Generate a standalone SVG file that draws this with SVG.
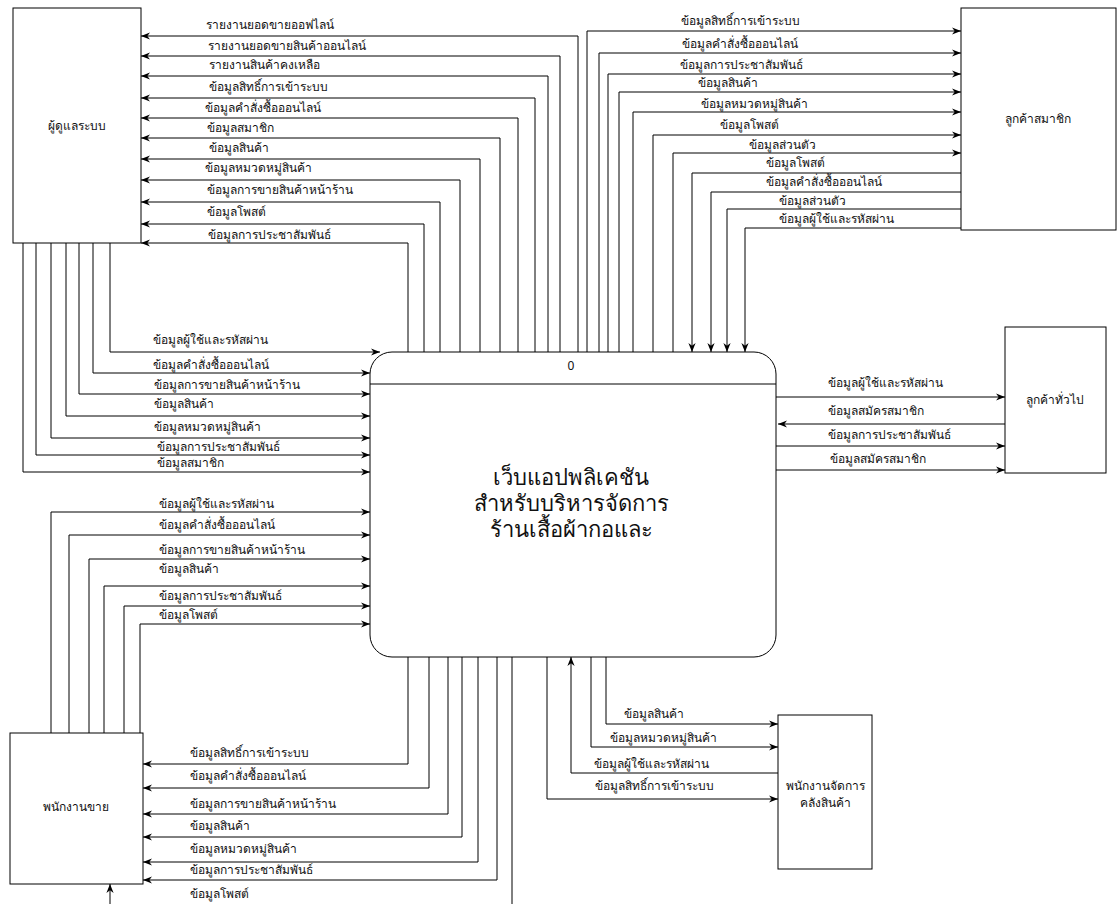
<svg xmlns="http://www.w3.org/2000/svg" width="1117" height="904" viewBox="0 0 1117 904">
<style>
.n{fill:#fff;stroke:#000;stroke-width:1}
.c{fill:none;stroke:#000;stroke-width:1}
.ca{fill:none;stroke:#000;stroke-width:1;marker-end:url(#ah)}
.t{font-family:"Noto Sans","DejaVu Sans",sans-serif;font-size:12px;fill:#111}
.nl{font-family:"Noto Sans","DejaVu Sans",sans-serif;font-size:12px;fill:#111;text-anchor:middle}
.big{font-family:"Noto Sans","DejaVu Sans",sans-serif;font-size:22px;fill:#111;text-anchor:middle}
</style>
<defs>
<marker id="ah" viewBox="0 0 10 10" refX="10" refY="5" markerWidth="9" markerHeight="9" orient="auto" markerUnits="userSpaceOnUse">
<path d="M0,1 L10,5 L0,9 L3,5 Z" fill="#000"/>
</marker>
</defs>
<rect width="1117" height="904" fill="#fff"/>

<g id="connectors">
<!-- process -> admin -->
<path class="ca" d="M578,352 V36 H141"/>
<path class="ca" d="M560,352 V56 H141"/>
<path class="ca" d="M548,352 V76 H141"/>
<path class="ca" d="M535,352 V98 H141"/>
<path class="ca" d="M518,352 V118 H141"/>
<path class="ca" d="M500,352 V138 H141"/>
<path class="ca" d="M480,352 V159 H141"/>
<path class="ca" d="M460,352 V180 H141"/>
<path class="ca" d="M440,352 V202 H141"/>
<path class="ca" d="M424,352 V224 H141"/>
<path class="ca" d="M408,352 V243 H141"/>
<!-- admin -> process -->
<path class="ca" d="M110,243 V352 H380"/>
<path class="ca" d="M93,243 V373 H370"/>
<path class="ca" d="M79,243 V394 H370"/>
<path class="ca" d="M66,243 V416 H370"/>
<path class="ca" d="M51,243 V438 H370"/>
<path class="ca" d="M36,243 V455 H370"/>
<path class="ca" d="M23,243 V472 H370"/>
<!-- process -> member -->
<path class="ca" d="M587,352 V31 H961"/>
<path class="ca" d="M599,352 V53 H961"/>
<path class="ca" d="M608,352 V74 H961"/>
<path class="ca" d="M619,352 V92 H961"/>
<path class="ca" d="M633,352 V112 H961"/>
<path class="ca" d="M653,352 V135 H961"/>
<path class="ca" d="M673,352 V153 H961"/>
<!-- member -> process -->
<path class="ca" d="M961,173 H692 V352"/>
<path class="ca" d="M961,192 H711 V352"/>
<path class="ca" d="M961,209 H727 V352"/>
<path class="ca" d="M961,228 H745 V352"/>
<!-- general customer -->
<path class="ca" d="M776,397 H1005"/>
<path class="ca" d="M1005,424 H778"/>
<path class="ca" d="M776,446 H1005"/>
<path class="ca" d="M776,470 H1005"/>
<!-- sales staff -> process -->
<path class="ca" d="M51,733 V512 H370"/>
<path class="ca" d="M69,733 V535 H370"/>
<path class="ca" d="M89,733 V559 H370"/>
<path class="ca" d="M104,733 V586 H370"/>
<path class="ca" d="M124,733 V606 H370"/>
<path class="ca" d="M140,733 V624 H370"/>
<!-- process -> sales staff -->
<path class="ca" d="M408,657 V764 H143"/>
<path class="ca" d="M429,657 V788 H143"/>
<path class="ca" d="M448,657 V814 H143"/>
<path class="ca" d="M462,657 V837 H143"/>
<path class="ca" d="M478,657 V862 H143"/>
<path class="ca" d="M497,657 V880 H143"/>
<path class="ca" d="M512,657 V930 H110 V884"/>
<!-- warehouse -->
<path class="ca" d="M606,657 V724 H778"/>
<path class="ca" d="M591,657 V747 H778"/>
<path class="ca" d="M778,773 H571 V657"/>
<path class="ca" d="M547,657 V799 H778"/>
</g>

<g id="labels">
<text class="t" x="206" y="29">รายงานยอดขายออฟไลน์</text>
<text class="t" x="208" y="50">รายงานยอดขายสินค้าออนไลน์</text>
<text class="t" x="209" y="69">รายงานสินค้าคงเหลือ</text>
<text class="t" x="209" y="91">ข้อมูลสิทธิ์การเข้าระบบ</text>
<text class="t" x="205" y="112">ข้อมูลคำสั่งซื้อออนไลน์</text>
<text class="t" x="207" y="132">ข้อมูลสมาชิก</text>
<text class="t" x="209" y="152">ข้อมูลสินค้า</text>
<text class="t" x="205" y="172">ข้อมูลหมวดหมู่สินค้า</text>
<text class="t" x="207" y="194">ข้อมูลการขายสินค้าหน้าร้าน</text>
<text class="t" x="207" y="216">ข้อมูลโพสต์</text>
<text class="t" x="208" y="239">ข้อมูลการประชาสัมพันธ์</text>

<text class="t" x="153" y="344">ข้อมูลผู้ใช้และรหัสผ่าน</text>
<text class="t" x="153" y="369">ข้อมูลคำสั่งซื้อออนไลน์</text>
<text class="t" x="154" y="389">ข้อมูลการขายสินค้าหน้าร้าน</text>
<text class="t" x="154" y="408">ข้อมูลสินค้า</text>
<text class="t" x="154" y="431">ข้อมูลหมวดหมู่สินค้า</text>
<text class="t" x="157" y="451">ข้อมูลการประชาสัมพันธ์</text>
<text class="t" x="157" y="467">ข้อมูลสมาชิก</text>

<text class="t" x="681" y="25">ข้อมูลสิทธิ์การเข้าระบบ</text>
<text class="t" x="682" y="48">ข้อมูลคำสั่งซื้อออนไลน์</text>
<text class="t" x="680" y="69">ข้อมูลการประชาสัมพันธ์</text>
<text class="t" x="698" y="87">ข้อมูลสินค้า</text>
<text class="t" x="701" y="108">ข้อมูลหมวดหมู่สินค้า</text>
<text class="t" x="720" y="129">ข้อมูลโพสต์</text>
<text class="t" x="749" y="149">ข้อมูลส่วนตัว</text>
<text class="t" x="766" y="167">ข้อมูลโพสต์</text>
<text class="t" x="766" y="186">ข้อมูลคำสั่งซื้อออนไลน์</text>
<text class="t" x="779" y="205">ข้อมูลส่วนตัว</text>
<text class="t" x="779" y="223">ข้อมูลผู้ใช้และรหัสผ่าน</text>

<text class="t" x="828" y="387">ข้อมูลผู้ใช้และรหัสผ่าน</text>
<text class="t" x="828" y="415">ข้อมูลสมัครสมาชิก</text>
<text class="t" x="828" y="439">ข้อมูลการประชาสัมพันธ์</text>
<text class="t" x="830" y="463">ข้อมูลสมัครสมาชิก</text>

<text class="t" x="159" y="508">ข้อมูลผู้ใช้และรหัสผ่าน</text>
<text class="t" x="159" y="529">ข้อมูลคำสั่งซื้อออนไลน์</text>
<text class="t" x="159" y="554">ข้อมูลการขายสินค้าหน้าร้าน</text>
<text class="t" x="159" y="573">ข้อมูลสินค้า</text>
<text class="t" x="159" y="600">ข้อมูลการประชาสัมพันธ์</text>
<text class="t" x="159" y="619">ข้อมูลโพสต์</text>

<text class="t" x="190" y="757">ข้อมูลสิทธิ์การเข้าระบบ</text>
<text class="t" x="190" y="780">ข้อมูลคำสั่งซื้อออนไลน์</text>
<text class="t" x="190" y="808">ข้อมูลการขายสินค้าหน้าร้าน</text>
<text class="t" x="190" y="830">ข้อมูลสินค้า</text>
<text class="t" x="190" y="853">ข้อมูลหมวดหมู่สินค้า</text>
<text class="t" x="190" y="874">ข้อมูลการประชาสัมพันธ์</text>
<text class="t" x="190" y="898">ข้อมูลโพสต์</text>

<text class="t" x="624" y="718">ข้อมูลสินค้า</text>
<text class="t" x="610" y="742">ข้อมูลหมวดหมู่สินค้า</text>
<text class="t" x="594" y="768">ข้อมูลผู้ใช้และรหัสผ่าน</text>
<text class="t" x="595" y="790">ข้อมูลสิทธิ์การเข้าระบบ</text>
</g>

<g id="admin">
<rect class="n" x="13" y="8" width="128" height="235"/>
<text class="nl" x="77" y="130">ผู้ดูแลระบบ</text>
</g>
<g id="member">
<rect class="n" x="961" y="8" width="155" height="222"/>
<text class="nl" x="1038" y="123">ลูกค้าสมาชิก</text>
</g>
<g id="general">
<rect class="n" x="1005" y="327" width="101" height="146"/>
<text class="nl" x="1055" y="404">ลูกค้าทั่วไป</text>
</g>
<g id="sales">
<rect class="n" x="10" y="733" width="133" height="151"/>
<text class="nl" x="76" y="811">พนักงานขาย</text>
</g>
<g id="warehouse">
<rect class="n" x="778" y="715" width="94" height="154"/>
<text class="nl" x="825" y="790">พนักงานจัดการ</text>
<text class="nl" x="825" y="807">คลังสินค้า</text>
</g>
<g id="process">
<rect class="n" x="370" y="352" width="406" height="305" rx="22" ry="22"/>
<line class="c" x1="370" y1="384" x2="776" y2="384"/>
<text class="nl" x="571" y="370">0</text>
<text class="big" x="571" y="485">เว็บแอปพลิเคชัน</text>
<text class="big" x="571" y="511">สำหรับบริหารจัดการ</text>
<text class="big" x="571" y="537">ร้านเสื้อผ้ากอและ</text>
</g>
</svg>
